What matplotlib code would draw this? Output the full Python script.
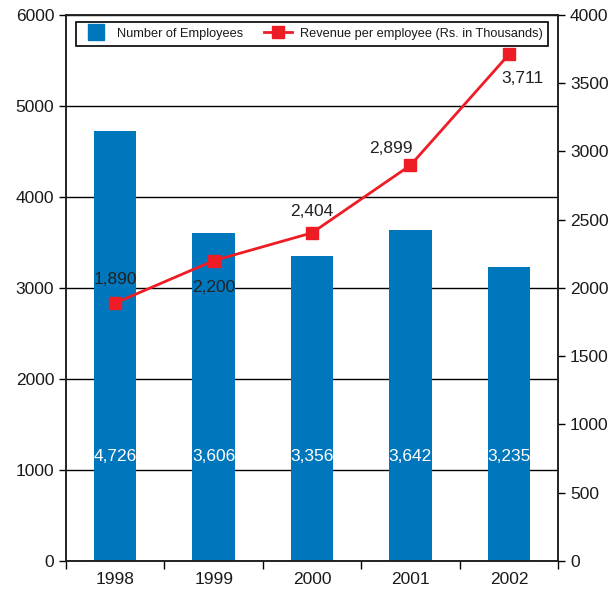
import matplotlib
matplotlib.use("Agg")
import matplotlib.pyplot as plt
from matplotlib.lines import Line2D
from matplotlib.ticker import FixedLocator

plt.rcParams['font.family'] = ['Liberation Sans', 'DejaVu Sans']

years = ["1998", "1999", "2000", "2001", "2002"]
employees = [4726, 3606, 3356, 3642, 3235]
revenue = [1890, 2200, 2404, 2899, 3711]

bar_blue = "#0077bd"
line_red = "#ee1c25"
ink = "#1a1a1a"

fig = plt.figure(figsize=(6.09, 5.92), dpi=100)
ax = fig.add_axes([0.1084, 0.0524, 0.808, 0.9223])
ax2 = ax.twinx()

x = list(range(len(years)))
bars = ax.bar(x, employees, width=0.43, color=bar_blue, zorder=2)
ax.set_xlim(-0.5, len(years) - 0.5)
ax.set_ylim(0, 6000)
ax.set_yticks(range(0, 6001, 1000))
ax.yaxis.grid(True, color="black", linewidth=1.0, zorder=0)
ax.set_axisbelow(True)

ax.set_xticks(x)
ax.set_xticklabels(years, fontsize=12.5, color=ink)
ax.xaxis.set_minor_locator(FixedLocator([i - 0.5 for i in range(len(years) + 1)]))
ax.tick_params(axis="x", which="major", length=0, pad=8)
ax.tick_params(axis="x", which="minor", length=6, direction="out", width=1)
ax.tick_params(axis="y", labelsize=12.5, labelcolor=ink, length=5, width=1)

# employee counts printed inside the bars
for xi, v in zip(x, employees):
    ax.text(xi, 1150, f"{v:,}", color="white", ha="center", va="center", fontsize=12.5, zorder=3)

line, = ax2.plot(x, revenue, color=line_red, linewidth=2, marker="s", markersize=9)
ax2.set_ylim(0, 4000)
ax2.set_yticks(range(0, 4001, 500))
ax2.tick_params(axis="y", labelsize=12.5, labelcolor=ink, length=5, width=1)

# where each revenue label sits relative to its marker (points)
offsets = [(0, 17), (0, -19), (0, 15), (-14, 12), (10, -17)]
for xi, v, (dx, dy) in zip(x, revenue, offsets):
    ax2.annotate(f"{v:,}", (xi, v), xytext=(dx, dy), textcoords="offset points",
                 ha="center", va="center", fontsize=12.5, color="#222222")

for a in (ax, ax2):
    for s in a.spines.values():
        s.set_linewidth(1.2)
        s.set_color("#222222")

# square swatch for the bars, line+marker for revenue
bar_key = Line2D([], [], linestyle="none", marker="s", markersize=11, color=bar_blue)
handles = [bar_key, line]
labels = ["Number of Employees", "Revenue per employee (Rs. in Thousands)"]
leg = ax2.legend(handles, labels, loc="upper center",
                 bbox_to_anchor=(0.5, 0.9985), ncol=2, fontsize=9.2, frameon=True,
                 fancybox=False, edgecolor="black", handlelength=2.2, columnspacing=1.6,
                 handletextpad=0.6, borderpad=0.45, framealpha=1)
leg.get_frame().set_linewidth(1.2)
for t in leg.get_texts():
    t.set_color(ink)

fig.savefig("out.png", dpi=100)
